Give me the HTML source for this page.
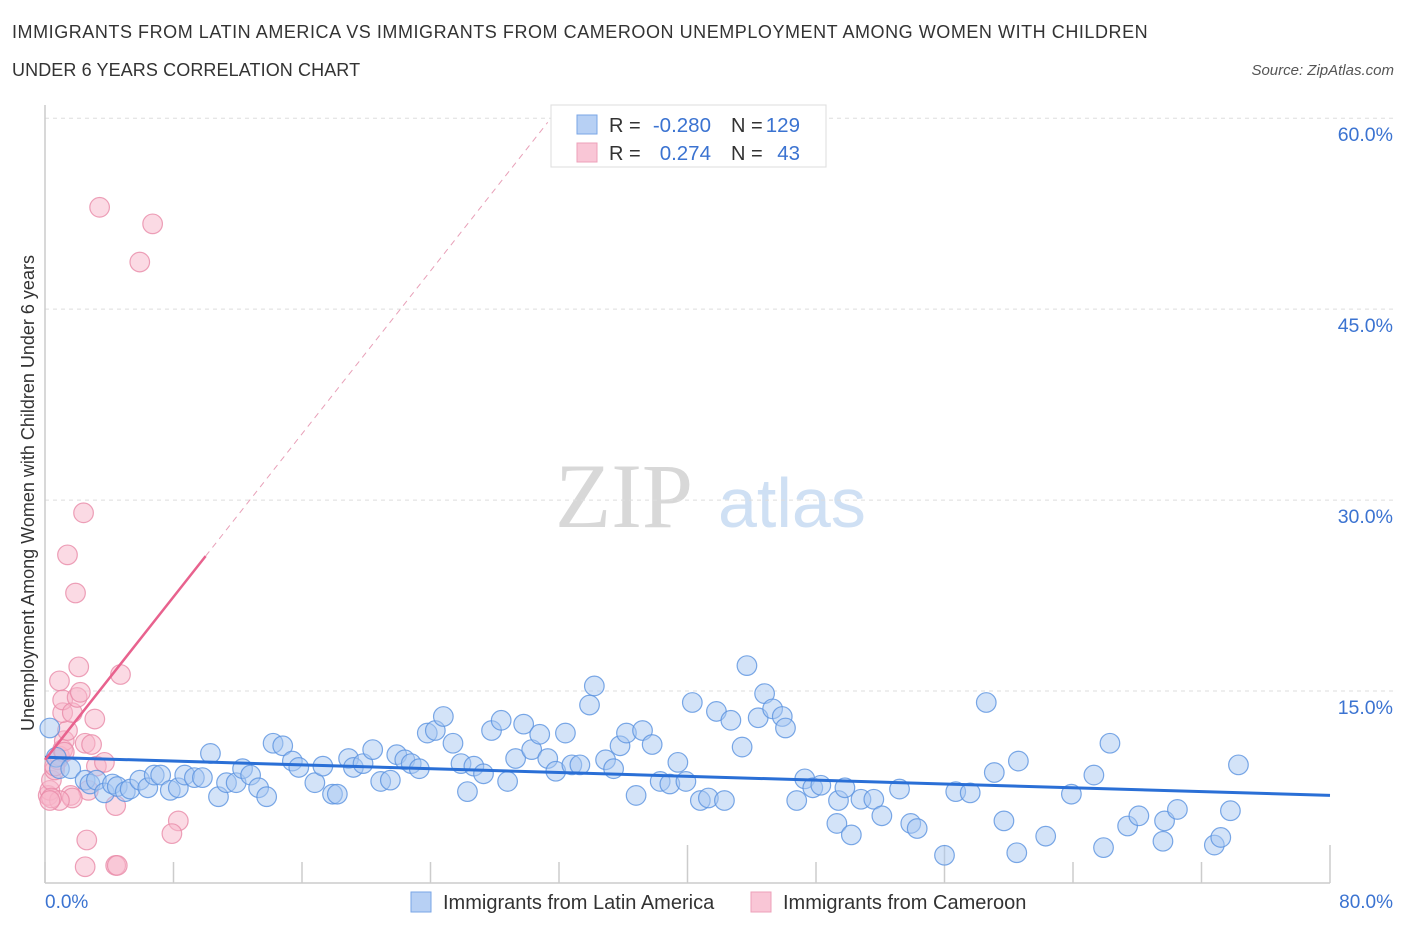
<!DOCTYPE html>
<html><head><meta charset="utf-8"><style>
body{margin:0;background:#fff;font-family:"Liberation Sans",sans-serif;}
#wrap{position:relative;width:1406px;height:930px;overflow:hidden;}
.t{position:absolute;white-space:nowrap;}
</style></head><body>
<div id="wrap">
<div class="t" style="left:12px;top:22px;font-size:18px;letter-spacing:0.55px;color:#333;">IMMIGRANTS FROM LATIN AMERICA VS IMMIGRANTS FROM CAMEROON UNEMPLOYMENT AMONG WOMEN WITH CHILDREN</div>
<div class="t" style="left:12px;top:60px;font-size:18px;letter-spacing:0.1px;color:#333;">UNDER 6 YEARS CORRELATION CHART</div>
<div class="t" style="right:12px;top:62px;font-size:15px;color:#555;font-style:italic;">Source: ZipAtlas.com</div>
<svg id="svg" width="1406" height="930" style="position:absolute;left:0;top:0"></svg>
</div>
<script>
const xTicks=[0,8,16,24,32,40,48,56,64,72,80];
const yTicks=[15,30,45,60];
const yTickLabels=["15.0%","30.0%","45.0%","60.0%"];
const blueX=[0.3,0.7,0.9,1.6,2.5,2.8,3.2,3.7,4.2,4.5,5.0,5.3,5.9,6.4,6.8,7.2,7.8,8.3,8.7,9.3,9.8,10.3,10.8,11.3,11.9,12.3,12.8,13.3,13.8,14.2,14.8,15.4,15.8,16.8,17.3,17.9,18.2,18.9,19.2,19.8,20.4,20.9,21.5,21.9,22.4,22.8,23.3,23.8,24.3,24.8,25.4,25.9,26.3,26.7,27.3,27.8,28.4,28.8,29.3,29.8,30.3,30.8,31.3,31.8,32.4,32.8,33.3,34.2,33.9,34.9,35.4,35.8,36.2,36.8,37.2,37.8,38.3,38.9,39.4,39.9,40.3,40.8,41.3,41.8,42.3,42.7,43.4,43.7,44.4,44.8,45.3,45.9,46.1,46.8,47.3,47.8,48.3,49.3,49.4,50.2,49.8,50.8,51.6,52.1,53.2,53.9,54.3,56.0,56.7,57.6,58.6,59.1,59.7,60.6,60.5,62.3,63.9,65.3,65.9,66.3,67.4,68.1,69.6,69.7,70.5,72.8,73.2,73.8,74.3];
const blueY=[12.1,9.8,8.9,8.9,8.0,7.7,8.0,7.0,7.7,7.5,7.1,7.3,8.0,7.4,8.4,8.4,7.2,7.4,8.4,8.2,8.2,10.1,6.7,7.8,7.8,8.9,8.4,7.4,6.7,10.9,10.7,9.5,9.0,7.8,9.1,6.9,6.9,9.7,9.0,9.3,10.4,7.9,8.0,10.0,9.6,9.3,8.9,11.7,11.9,13.0,10.9,9.3,7.1,9.1,8.5,11.9,12.7,7.9,9.7,12.4,10.4,11.6,9.7,8.7,11.7,9.2,9.2,15.4,13.9,9.6,8.9,10.7,11.7,6.8,11.9,10.8,7.9,7.7,9.4,7.9,14.1,6.4,6.6,13.4,6.4,12.7,10.6,17.0,12.9,14.8,13.6,13.0,12.1,6.4,8.1,7.4,7.6,4.6,6.4,3.7,7.4,6.5,6.5,5.2,7.3,4.6,4.2,2.1,7.1,7.0,14.1,8.6,4.8,9.5,2.3,3.6,6.9,8.4,2.7,10.9,4.4,5.2,3.2,4.8,5.7,2.9,3.5,5.6,9.2];
const pinkX=[0.2,0.3,0.4,0.6,0.8,0.9,1.1,1.2,1.4,1.1,0.9,1.1,1.4,1.7,1.9,2.0,2.1,2.2,2.4,2.5,2.7,2.9,3.1,3.2,3.4,3.7,4.4,4.7,5.9,6.7,2.6,2.5,4.4,4.5,8.3,7.9,1.6,1.7,0.9,0.4,0.3,0.6,1.2];
const pinkY=[6.8,7.2,8.0,8.8,9.6,9.9,10.4,11.1,11.9,13.3,15.8,14.3,25.7,13.3,22.7,14.5,16.9,14.9,29.0,10.9,7.2,10.8,12.8,9.1,53.0,9.4,6.0,16.3,48.7,51.7,3.3,1.2,1.3,1.3,4.8,3.8,6.8,6.6,6.4,6.6,6.4,9.1,10.2];
const blueFit=[9.8,6.8];
const pinkFit=[9.6,1.6];
const NS="http://www.w3.org/2000/svg";
const svg=document.getElementById('svg');
const X0=45,X1=1330,Y0=882,YPX=12.73;
function sx(v){return X0+(X1-X0)*v/80;}
function sy(v){return Y0-v*YPX;}
function el(tag,attrs,parent){const e=document.createElementNS(NS,tag);for(const k in attrs)e.setAttribute(k,attrs[k]);(parent||svg).appendChild(e);return e;}
let wm=el('text',{x:555,y:527,'font-family':'Liberation Serif,serif','font-size':92,fill:'#d8d8d8'});wm.textContent='ZIP';


let wm2=el('text',{x:718,y:527,'font-family':'Liberation Sans,sans-serif','font-size':70,fill:'#cfe0f4'});wm2.textContent='atlas';


yTicks.forEach((v,i)=>{
 let g=el('line',{x1:X0,x2:1395,y1:sy(v),y2:sy(v),stroke:'#dddddd','stroke-dasharray':'4,4'});
 
 
 let t=el('text',{x:1393,y:sy(v)+23,'text-anchor':'end','font-size':19.5,fill:'#3b73d1','font-family':'Liberation Sans,sans-serif'});t.textContent=yTickLabels[i];
 
 
});
let ax=el('line',{x1:X0,x2:X1,y1:Y0+1,y2:Y0+1,stroke:'#cccccc','stroke-width':1.5});


let ay=el('line',{x1:X0,x2:X0,y1:105,y2:Y0+1,stroke:'#cccccc','stroke-width':1.5});


xTicks.forEach((v,i)=>{
 let tall=(i==5||i==7||i==10);
 let tk=el('line',{x1:sx(v),x2:sx(v),y1:tall?845:862,y2:Y0+1,stroke:'#cccccc','stroke-width':1.5});
 
 
});
function dots(xs,ys,fill,stroke,name){
 xs.forEach((x,i)=>{
  let c=el('circle',{cx:sx(x),cy:sy(ys[i]),r:9.8,fill:fill,'fill-opacity':0.5,stroke:stroke,'stroke-width':1.2,'stroke-opacity':0.8});
  
  
 });
}
dots(pinkX,pinkY,'#f7b6ca','#e88aa8','point-cameroon');
dots(blueX,blueY,'#a8c8f2','#5a92e0','point-latin-america');
let bl=el('line',{x1:sx(0),y1:sy(blueFit[0]),x2:sx(80),y2:sy(blueFit[1]),stroke:'#2a6fd6','stroke-width':3});


let pl=el('line',{x1:sx(0),y1:sy(pinkFit[0]),x2:sx(10),y2:sy(pinkFit[0]+pinkFit[1]*10),stroke:'#e8628e','stroke-width':2.5});


let pd=el('line',{x1:sx(10),y1:sy(pinkFit[0]+pinkFit[1]*10),x2:sx(31.3),y2:sy(pinkFit[0]+pinkFit[1]*31.3),stroke:'#e8a0b8','stroke-width':1,'stroke-dasharray':'6,5'});


let xl=el('text',{x:45,y:908,'font-size':19,fill:'#3b73d1','font-family':'Liberation Sans,sans-serif'});xl.textContent='0.0%';


let xr=el('text',{x:1393,y:908,'text-anchor':'end','font-size':19,fill:'#3b73d1','font-family':'Liberation Sans,sans-serif'});xr.textContent='80.0%';


let yt=el('text',{x:0,y:0,transform:'translate(34,493) rotate(-90)','text-anchor':'middle','font-size':18,fill:'#333','font-family':'Liberation Sans,sans-serif'});yt.textContent='Unemployment Among Women with Children Under 6 years';


let lb=el('rect',{x:551,y:105,width:275,height:62,fill:'#fff',stroke:'#dddddd'});


function stat(y,fill,stroke,r,n,name){
 let s=el('rect',{x:577,y:y-9,width:20,height:19,fill:fill,stroke:stroke});
 
 
 let t1=el('text',{x:609,y:y+8,'font-size':20,fill:'#333','font-family':'Liberation Sans,sans-serif'});t1.textContent='R =';
 
 
 let t2=el('text',{x:711,y:y+8,'text-anchor':'end','font-size':20.5,fill:'#3b73d1','font-family':'Liberation Sans,sans-serif'});t2.textContent=r;
 
 
 let t3=el('text',{x:731,y:y+8,'font-size':20,fill:'#333','font-family':'Liberation Sans,sans-serif'});t3.textContent='N =';
 
 
 let t4=el('text',{x:800,y:y+8,'text-anchor':'end','font-size':20.5,fill:'#3b73d1','font-family':'Liberation Sans,sans-serif'});t4.textContent=n;
 
 
}
stat(124,'#b7d0f4','#7aa6e6','-0.280','129','latin-america');
stat(152,'#f9c6d6','#eda0b9','0.274','43','cameroon');
function leg(x,fill,stroke,label,name){
 let s=el('rect',{x:x,y:892,width:20,height:20,fill:fill,stroke:stroke});
 
 
 let t=el('text',{x:x+32,y:909,'font-size':20,fill:'#333','font-family':'Liberation Sans,sans-serif'});t.textContent=label;
 
 
}
leg(411,'#b7d0f4','#7aa6e6','Immigrants from Latin America','legend-latin-america');
leg(751,'#f9c6d6','#eda0b9','Immigrants from Cameroon','legend-cameroon');
</script>
</body></html>
